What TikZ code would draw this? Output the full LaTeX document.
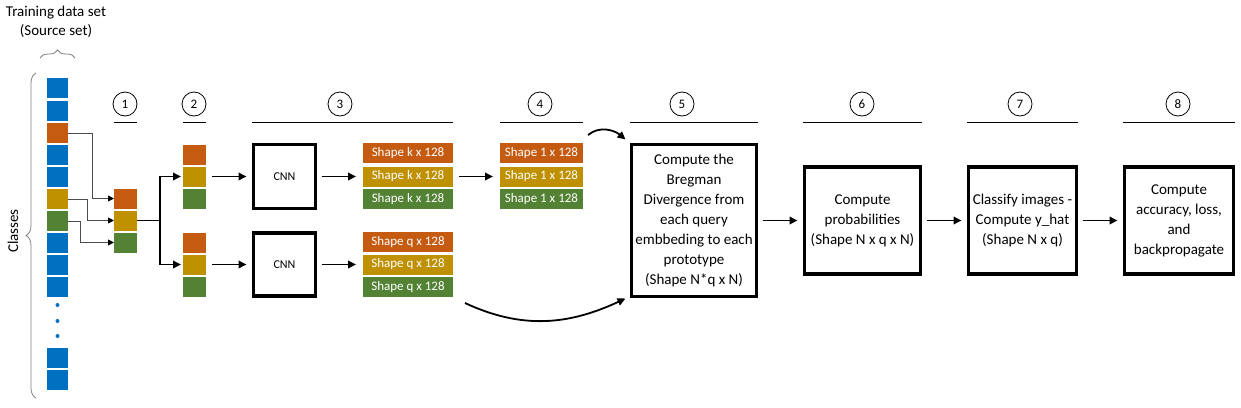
\documentclass[tikz,border=0pt]{standalone}
\usepackage{fontspec}
\setmainfont{Carlito}
\usetikzlibrary{arrows.meta,decorations.pathreplacing}
\definecolor{cblue}{HTML}{0070C0}
\definecolor{corange}{HTML}{C55A11}
\definecolor{cgold}{HTML}{BF9000}
\definecolor{cgreen}{HTML}{548235}
\definecolor{cgray}{HTML}{7F7F7F}
\tikzset{
  cell/.style={fill=#1, minimum width=21pt, minimum height=20pt, inner sep=0pt, outer sep=0pt},
  bigcell/.style={cell=#1, minimum width=23pt},
  bar/.style={fill=#1, text=white, minimum width=90pt, minimum height=20pt, inner sep=0pt, outer sep=0pt, font=\fontsize{13}{13}\selectfont},
  box/.style={draw, line width=3.2pt, align=center, inner sep=0pt, outer sep=0pt, font=\fontsize{15}{20}\selectfont},
  stepnum/.style={circle, draw, line width=0.8pt, minimum size=24pt, inner sep=0pt, font=\fontsize{13}{13}\selectfont},
  flow/.style={line width=1.8pt, -{Triangle[length=8pt,width=7.5pt]}, shorten <=6pt, shorten >=7pt},
  fork/.style={line width=1.8pt, -{Triangle[length=8pt,width=7.5pt]}, shorten >=2pt},
  link/.style={draw=black!70, line width=0.9pt, -{Triangle[length=6pt,width=6pt,color=black]}},
  curly/.style={decorate, decoration={brace, amplitude=#1}, draw=cgray, line width=0.8pt}
}
\begin{document}
\begin{tikzpicture}[x=1pt, y=1pt]
\useasboundingbox (0,0) rectangle (1241,-407);

\node[align=center, font=\fontsize{15}{19}\selectfont] (trainset) at (56,-21.5) {Training data set\\(Source set)};
\node[rotate=90, font=\fontsize{15}{15}\selectfont] (classes) at (13,-231) {Classes};

\foreach \i/\y/\c in {1/88/cblue,2/110.5/cblue,3/133/corange,4/155/cblue,5/177/cblue,6/199/cgold,7/221/cgreen,8/243/cblue,9/265/cblue,10/287/cblue,11/358/cblue,12/380/cblue}
  \node[cell=\c] (src\i) at (57.5,-\y) {};
\foreach \y in {305,321,336}
  \fill[cblue] (57.5,-\y) circle (2pt);

\draw[curly=8pt] ([shift={(-7,20)}]src1.north west) -- ([shift={(7,20)}]src1.north east);
\draw[curly=10pt] ([shift={(-11,-8)}]src12.south west) -- ([shift={(-11,5)}]src1.north west);

\node[bigcell=corange] (pick1) at (125.5,-198.5) {};
\node[bigcell=cgold] (pick2) at (125.5,-220.5) {};
\node[bigcell=cgreen] (pick3) at (125.5,-242.5) {};

\node[bigcell=corange] (sup1) at (194.5,-154.5) {};
\node[bigcell=cgold] (sup2) at (194.5,-176.5) {};
\node[bigcell=cgreen] (sup3) at (194.5,-198.5) {};
\node[bigcell=corange] (qry1) at (194.5,-242.5) {};
\node[bigcell=cgold] (qry2) at (194.5,-264.5) {};
\node[bigcell=cgreen] (qry3) at (194.5,-286.5) {};

\node[box, minimum width=62pt, minimum height=64pt, font=\fontsize{12}{12}\selectfont] (cnnS) at (284.5,-176.5) {CNN};
\node[box, minimum width=62pt, minimum height=63pt, font=\fontsize{12}{12}\selectfont] (cnnQ) at (284.5,-264.5) {CNN};

\node[bar=corange] (embS1) at (408,-153) {Shape k x 128};
\node[bar=cgold] (embS2) at (408,-176.5) {Shape k x 128};
\node[bar=cgreen] (embS3) at (408,-199) {Shape k x 128};
\node[bar=corange] (embQ1) at (408,-242) {Shape q x 128};
\node[bar=cgold] (embQ2) at (408,-264.5) {Shape q x 128};
\node[bar=cgreen] (embQ3) at (408,-287) {Shape q x 128};

\node[bar=corange, minimum width=83pt] (proto1) at (541.5,-153) {Shape 1 x 128};
\node[bar=cgold, minimum width=83pt] (proto2) at (541.5,-176.5) {Shape 1 x 128};
\node[bar=cgreen, minimum width=83pt] (proto3) at (541.5,-199) {Shape 1 x 128};

\node[box, minimum width=125pt, minimum height=152pt] (bregman) at (694,-220.5) {Compute the\\Bregman\\Divergence from\\each query\\embbeding to each\\prototype\\(Shape N*q x N)};
\node[box, minimum width=116pt, minimum height=107pt] (prob) at (862.5,-220.5) {Compute\\probabilities\\(Shape N x q x N)};
\node[box, minimum width=108pt, minimum height=107pt] (classify) at (1022.5,-220.5) {Classify images -\\Compute y\_hat\\(Shape N x q)};
\node[box, minimum width=109pt, minimum height=107pt] (update) at (1179,-220.5) {Compute\\accuracy, loss,\\and\\backpropagate};

\foreach \n/\x in {1/125,2/194,3/340,4/540,5/682,6/862,7/1020,8/1178}
  \node[stepnum] (num\n) at (\x,-104) {\n};
\foreach \a/\b in {114/137,183/206,252/453,500/583,630/758,803/922,967/1078,1123/1235}
  \draw[line width=0.8pt] (\a,-122) -- (\b,-122);

\draw[link] (src3.east) -- ++(24,0) |- (pick1.west);
\draw[link] (src6.east) -- ++(19,0) |- (pick2.west);
\draw[link] (src7.east) -- ++(12,0) |- (pick3.west);

\draw[fork] (pick2.east) -- ++(23,0) coordinate (split) |- (sup2.west);
\draw[fork] (split) |- (qry2.west);

\draw[flow] (sup2) -- (cnnS);
\draw[flow] (qry2) -- (cnnQ);
\draw[flow] (cnnS) -- (embS2);
\draw[flow] (cnnQ) -- (embQ2);
\draw[flow] (embS2) -- (proto2);
\draw[flow] (bregman) -- (prob);
\draw[flow] (prob) -- (classify);
\draw[flow] (classify) -- (update);

\draw[line width=1.8pt, -{Triangle[length=8pt,width=7.5pt]}] ([shift={(5,8)}]proto1.north east) to[out=40,in=140] ([shift={(-6,5)}]bregman.north west);
\draw[line width=1.8pt, -{Triangle[length=8pt,width=7.5pt]}] ([shift={(12,-6)}]embQ3.south east) to[out=-25,in=-155] ([shift={(-6,-2)}]bregman.south west);
\end{tikzpicture}
\end{document}
